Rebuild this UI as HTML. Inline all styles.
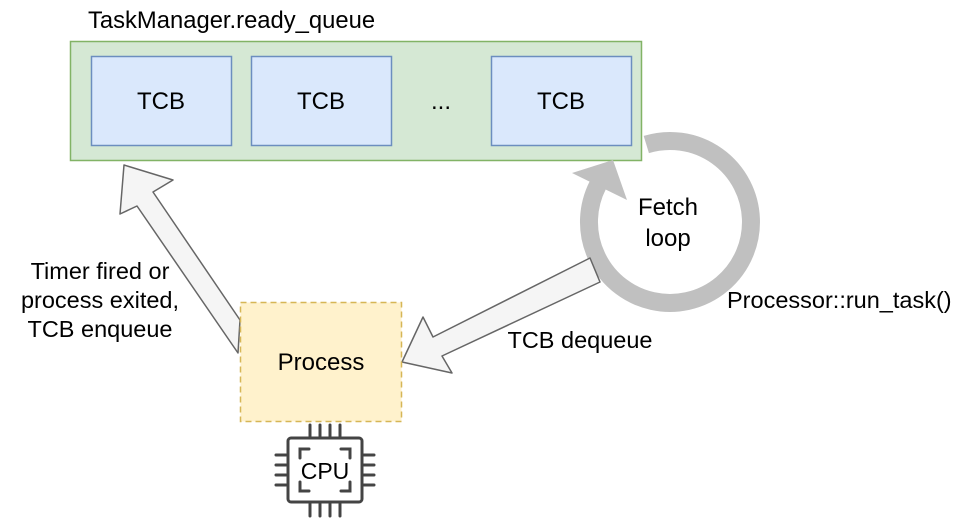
<!DOCTYPE html>
<html><head><meta charset="utf-8"><style>
html,body{margin:0;padding:0;background:#fff;}
svg{display:block;}
text{font-family:"Liberation Sans",Arial,sans-serif;fill:#000;}
</style></head><body>
<svg width="972" height="524" viewBox="0 0 972 524" xmlns="http://www.w3.org/2000/svg">
<text x="88" y="28" font-size="23.8">TaskManager.ready_queue</text>
<rect x="70.5" y="41.5" width="571" height="119" fill="#d5e8d4" stroke="#82b366" stroke-width="1.5"/>
<rect x="91.5" y="56.5" width="140" height="89" fill="#dae8fc" stroke="#6c8ebf" stroke-width="1.5"/>
<rect x="251.5" y="56.5" width="140" height="89" fill="#dae8fc" stroke="#6c8ebf" stroke-width="1.5"/>
<rect x="491.5" y="56.5" width="140" height="89" fill="#dae8fc" stroke="#6c8ebf" stroke-width="1.5"/>
<text x="161" y="109" font-size="24" text-anchor="middle">TCB</text>
<text x="321" y="109" font-size="24" text-anchor="middle">TCB</text>
<text x="441" y="109" font-size="24" text-anchor="middle">...</text>
<text x="561" y="109" font-size="24" text-anchor="middle">TCB</text>

<!-- loop -->
<path d="M646.3 144.5 A81 81 0 1 1 597.8 185.2" fill="none" stroke="#c0c0c0" stroke-width="18"/>
<polygon points="613,160 572,173 627,200" fill="#c0c0c0"/>
<text x="668" y="215" font-size="24" text-anchor="middle">Fetch</text>
<text x="668" y="246" font-size="24" text-anchor="middle">loop</text>
<text x="727" y="308" font-size="23.5">Processor::run_task()</text>

<!-- arrow up-left -->
<polygon points="238,353 137,206 120,214 124,165 173,180 153,192 240,320" fill="#f5f5f5" stroke="#666" stroke-width="1.5" stroke-linejoin="round"/>
<!-- arrow down-left -->
<polygon points="590,258 433,337 423,317 402,362 452,373 442,356 600,282" fill="#f5f5f5" stroke="#666" stroke-width="1.5" stroke-linejoin="round"/>

<text x="100" y="279" font-size="23.5" text-anchor="middle">Timer fired or</text>
<text x="100" y="308" font-size="23.5" text-anchor="middle">process exited,</text>
<text x="100" y="337" font-size="23.5" text-anchor="middle">TCB enqueue</text>
<text x="580" y="348" font-size="23.5" text-anchor="middle">TCB dequeue</text>

<rect x="240.5" y="302.5" width="161" height="119" fill="#fff2cc" stroke="#d6b656" stroke-width="1.5" stroke-dasharray="6 4"/>
<text x="321" y="370" font-size="24" text-anchor="middle">Process</text>

<!-- CPU -->
<g stroke="#444" stroke-width="3" fill="none" stroke-linecap="round">
<rect x="288" y="438" width="74" height="64" rx="3"/>
<line x1="310" y1="425" x2="310" y2="436"/><line x1="320" y1="425" x2="320" y2="436"/><line x1="330" y1="425" x2="330" y2="436"/><line x1="340" y1="425" x2="340" y2="436"/>
<line x1="310" y1="504" x2="310" y2="516"/><line x1="320" y1="504" x2="320" y2="516"/><line x1="330" y1="504" x2="330" y2="516"/><line x1="340" y1="504" x2="340" y2="516"/>
<line x1="276" y1="455" x2="286" y2="455"/><line x1="276" y1="465" x2="286" y2="465"/><line x1="276" y1="475" x2="286" y2="475"/><line x1="276" y1="485" x2="286" y2="485"/>
<line x1="364" y1="455" x2="374" y2="455"/><line x1="364" y1="465" x2="374" y2="465"/><line x1="364" y1="475" x2="374" y2="475"/><line x1="364" y1="485" x2="374" y2="485"/>
<path d="M300 458 V449 H309 M341 449 H350 V458 M350 482 V491 H341 M309 491 H300 V482"/>
</g>
<text x="325" y="479" font-size="23" text-anchor="middle">CPU</text>
</svg>
</body></html>
